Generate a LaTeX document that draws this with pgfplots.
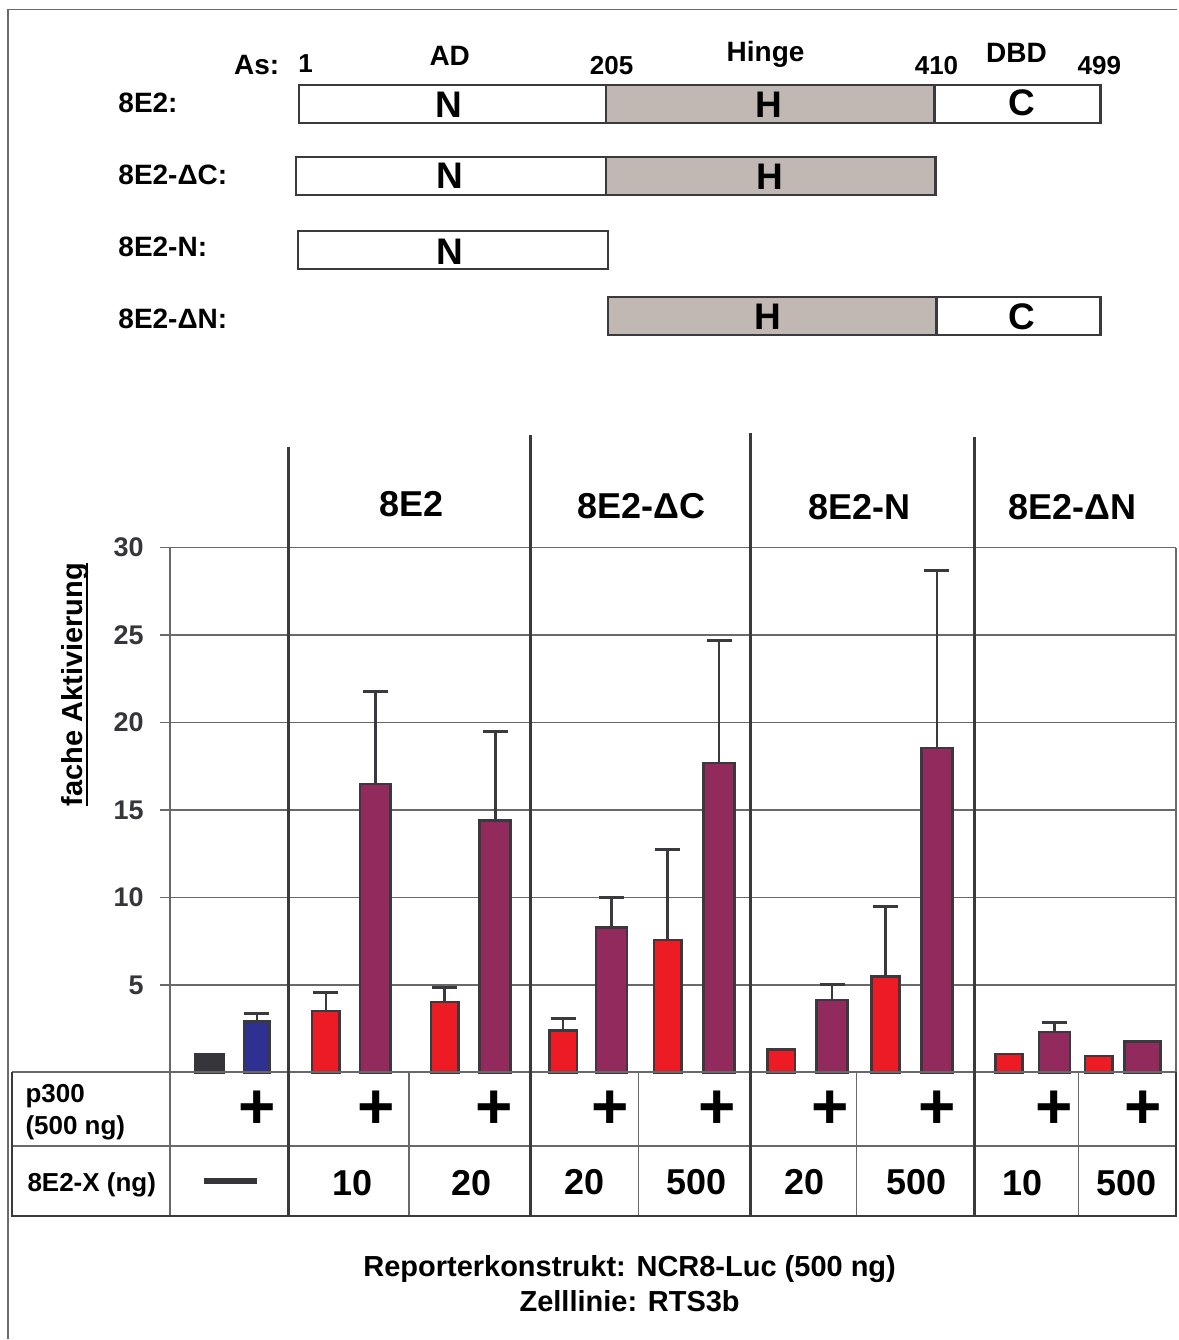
\documentclass[border=0pt]{standalone}
\usepackage{fontspec}
\setmainfont{Liberation Sans}
\usepackage{pgfplots}
\usepackage{pgfplotstable}
\pgfplotsset{compat=1.18}
\definecolor{txt}{RGB}{54,53,58}
\definecolor{dk}{RGB}{58,57,61}
\definecolor{gr}{RGB}{105,105,108}
\definecolor{hinge}{RGB}{193,184,180}
\definecolor{redb}{RGB}{237,28,36}
\definecolor{purb}{RGB}{146,42,94}
\definecolor{blueb}{RGB}{46,49,146}
\definecolor{blackb}{RGB}{54,53,57}
\pgfmathdeclarefunction{py}{1}{\pgfmathparse{(1073-#1)/17.5}}
\newcommand{\fs}[1]{\fontsize{#1}{#1}\selectfont\bfseries}
\newsavebox\ylabbox

% bars: x (pixel centre), value
\pgfplotstableread{
x y
326 3.50
445 4.03
563.5 2.40
668 7.57
781.5 1.30
886 5.50
1009.5 1.05
1099.5 0.93
}\redbars
\pgfplotstableread{
x y
375.5 16.50
495.5 14.40
612 8.28
719.5 17.70
832.5 4.15
937.5 18.55
1055 2.30
}\purbars
% error bars (upper whisker): x, bar top, whisker top
\pgfplotstableread{
x y
257 2.91
257 3.38
nan nan
326 3.50
326 4.58
nan nan
445 4.03
445 4.88
nan nan
563.5 2.40
563.5 3.07
nan nan
668 7.57
668 12.72
nan nan
886 5.50
886 9.50
nan nan
375.5 16.50
375.5 21.75
nan nan
495.5 14.40
495.5 19.50
nan nan
612 8.28
612 9.98
nan nan
719.5 17.70
719.5 24.70
nan nan
832.5 4.15
832.5 5.00
nan nan
937.5 18.55
937.5 28.70
nan nan
1055 2.30
1055 2.83
}\whisk
\pgfplotstableread{
x y
244.5 3.38
269.5 3.38
nan nan
313.5 4.58
338.5 4.58
nan nan
432.5 4.88
457.5 4.88
nan nan
551 3.07
576 3.07
nan nan
655.5 12.72
680.5 12.72
nan nan
873.5 9.50
898.5 9.50
nan nan
363 21.75
388 21.75
nan nan
483 19.50
508 19.50
nan nan
599.5 9.98
624.5 9.98
nan nan
707 24.70
732 24.70
nan nan
820 5.00
845 5.00
nan nan
925 28.70
950 28.70
nan nan
1042.5 2.83
1067.5 2.83
}\caps

\begin{document}
\begin{tikzpicture}
\begin{axis}[
  x=1pt, y=17.5pt,
  xmin=170, xmax=1177, ymin=0, ymax=30,
  clip=false,
  axis line style={draw=none},
  xtick=\empty,
  ytick={5,10,...,30},
  ytick pos=left,
  tick align=outside,
  major tick length=10pt,
  tick style={gr, line width=1.4pt},
  ymajorgrids,
  grid style={gr, line width=1.4pt},
  /pgf/number format/assume math mode=true,
  yticklabel style={font=\fs{27}, text=txt, inner sep=0pt, anchor=east, xshift=-16pt},
  every node/.append style={text=txt, inner sep=0pt},
]
% whiskers first (bars drawn over their foot)
\addplot[dk, line width=2.6pt, unbounded coords=jump, mark=none] table[x=x, y=y] {\whisk};
\addplot[dk, line width=3pt, unbounded coords=jump, mark=none] table[x=x, y=y] {\caps};
% bars
\addplot[ybar, bar width=28.5pt, bar shift=0pt, fill=blackb, draw=blackb, line width=2.6pt]
  coordinates {(209.5,1.05)};
\addplot[ybar, bar width=25.5pt, bar shift=0pt, fill=blueb, draw=dk, line width=2.6pt]
  coordinates {(257,2.91)};
\addplot[ybar, bar width=27.5pt, bar shift=0pt, fill=redb, draw=dk, line width=2.6pt]
  table[x=x, y=y] {\redbars};
\addplot[ybar, bar width=31pt, bar shift=0pt, fill=purb, draw=dk, line width=2.6pt]
  table[x=x, y=y] {\purbars};
\addplot[ybar, bar width=36pt, bar shift=0pt, fill=purb, draw=dk, line width=2.6pt]
  coordinates {(1143,1.75)};

% bounding box and frame
\path (axis cs:0,{py(0)}) rectangle (axis cs:1178,{py(1340)});
\draw[gr, line width=1.5pt] (axis cs:8,{py(1340)}) -- (axis cs:8,{py(9.5)}) -- (axis cs:1178,{py(9.5)});

% axis / table lines
\draw[gr, line width=1.5pt] (axis cs:170,30) -- (axis cs:170,{py(1216)});
\draw[gr, line width=1.5pt] (axis cs:1176.5,30) -- (axis cs:1176.5,0);
\draw[gr, line width=1.5pt] (axis cs:409,0) -- (axis cs:409,{py(1216)});
\draw[gr, line width=1.5pt] (axis cs:639,0) -- (axis cs:639,{py(1216)});
\draw[gr, line width=1.5pt] (axis cs:857,0) -- (axis cs:857,{py(1216)});
\draw[gr, line width=1.5pt] (axis cs:1079,0) -- (axis cs:1079,{py(1216)});
\draw[gr, line width=2pt] (axis cs:12,{py(1146.5)}) -- (axis cs:1177,{py(1146.5)});
\draw[gr, line width=2pt] (axis cs:12,0) -- (axis cs:1177,0);
\draw[dk, line width=2.5pt] (axis cs:1176.5,0) -- (axis cs:1176.5,{py(1216.5)}) -- (axis cs:12,{py(1216.5)}) -- (axis cs:12,0);
\draw[dk, line width=3pt] (axis cs:289,{py(447)}) -- (axis cs:289,{py(1216.5)});
\draw[dk, line width=3pt] (axis cs:531,{py(435)}) -- (axis cs:531,{py(1216.5)});
\draw[dk, line width=3pt] (axis cs:751,{py(433)}) -- (axis cs:751,{py(1216.5)});
\draw[dk, line width=3pt] (axis cs:975,{py(437)}) -- (axis cs:975,{py(1216.5)});

% group headers
\node[anchor=base] at (axis cs:412,{py(516.5)}) {\fs{36}8E2};
\node[anchor=base] at (axis cs:642,{py(519)}) {\fs{36}8E2-\symbol{"0394}C};
\node[anchor=base] at (axis cs:860,{py(520)}) {\fs{36}8E2-N};
\node[anchor=base] at (axis cs:1073,{py(520)}) {\fs{36}8E2-\symbol{"0394}N};

% y label
\node[anchor=base, rotate=90] at (axis cs:83,{py(685)})
  {\fs{29}\sbox\ylabbox{fache Aktivierung}\usebox\ylabbox\llap{\rule[-5pt]{\wd\ylabbox}{2pt}}};

% table text
\node[anchor=base west] at (axis cs:22,{py(1103.3)}) {\fs{26}p300};
\node[anchor=base west] at (axis cs:22,{py(1135)}) {\fs{26}(500 ng)};
\node[anchor=base west] at (axis cs:24,{py(1192)}) {\fs{26}8E2-X (ng)};
\node at (axis cs:257.5,{py(1110)}) {\fs{64}+};
\node at (axis cs:376,{py(1110)}) {\fs{64}+};
\node at (axis cs:494,{py(1110)}) {\fs{64}+};
\node at (axis cs:611,{py(1110)}) {\fs{64}+};
\node at (axis cs:718,{py(1110)}) {\fs{64}+};
\node at (axis cs:831,{py(1110)}) {\fs{64}+};
\node at (axis cs:938,{py(1110)}) {\fs{64}+};
\node at (axis cs:1055,{py(1110)}) {\fs{64}+};
\node at (axis cs:1143.5,{py(1110)}) {\fs{64}+};
\node at (axis cs:230.5,{py(1181.7)}) {\color{txt}\rule{53pt}{6.3pt}};
\node[anchor=base] at (axis cs:353,{py(1196.5)}) {\fs{36}10};
\node[anchor=base] at (axis cs:472,{py(1196)}) {\fs{36}20};
\node[anchor=base] at (axis cs:585,{py(1195)}) {\fs{36}20};
\node[anchor=base] at (axis cs:697,{py(1195)}) {\fs{36}500};
\node[anchor=base] at (axis cs:805,{py(1195)}) {\fs{36}20};
\node[anchor=base] at (axis cs:917,{py(1195)}) {\fs{36}500};
\node[anchor=base] at (axis cs:1023,{py(1196.5)}) {\fs{36}10};
\node[anchor=base] at (axis cs:1127.5,{py(1196.5)}) {\fs{36}500};

% captions
\node[anchor=base] at (axis cs:630,{py(1277)}) {\fs{29}Reporterkonstrukt: NCR8-Luc (500 ng)};
\node[anchor=base] at (axis cs:630,{py(1312)}) {\fs{29}Zelllinie: RTS3b};

% domain diagram
\filldraw[draw=dk, line width=2.3pt, fill=white] (axis cs:299,{py(85)}) rectangle (axis cs:606,{py(123)});
\filldraw[draw=dk, line width=2.3pt, fill=hinge] (axis cs:606,{py(85)}) rectangle (axis cs:935,{py(123)});
\filldraw[draw=dk, line width=2.3pt, fill=white] (axis cs:935,{py(85)}) rectangle (axis cs:1101,{py(123)});
\filldraw[draw=dk, line width=2.3pt, fill=white] (axis cs:296,{py(157)}) rectangle (axis cs:606,{py(195)});
\filldraw[draw=dk, line width=2.3pt, fill=hinge] (axis cs:606,{py(157)}) rectangle (axis cs:936,{py(195)});
\filldraw[draw=dk, line width=2.3pt, fill=white] (axis cs:298,{py(231)}) rectangle (axis cs:608,{py(269)});
\filldraw[draw=dk, line width=2.3pt, fill=hinge] (axis cs:608,{py(297)}) rectangle (axis cs:937,{py(335)});
\filldraw[draw=dk, line width=2.3pt, fill=white] (axis cs:937,{py(297)}) rectangle (axis cs:1101,{py(335)});

\node[anchor=base east] at (axis cs:283,{py(75)}) {\fs{28}As:};
\node[anchor=base west] at (axis cs:295,{py(73)}) {\fs{26}1};
\node[anchor=base] at (axis cs:450,{py(66)}) {\fs{28}AD};
\node[anchor=base] at (axis cs:612,{py(75)}) {\fs{26}205};
\node[anchor=base] at (axis cs:766,{py(62)}) {\fs{28}Hinge};
\node[anchor=base] at (axis cs:937,{py(75)}) {\fs{26}410};
\node[anchor=base] at (axis cs:1017,{py(63)}) {\fs{28}DBD};
\node[anchor=base] at (axis cs:1100,{py(75)}) {\fs{26}499};

\node[anchor=base west] at (axis cs:115,{py(112.7)}) {\fs{28}8E2:};
\node[anchor=base west] at (axis cs:115,{py(185)}) {\fs{28}8E2-\symbol{"0394}C:};
\node[anchor=base west] at (axis cs:115,{py(256.5)}) {\fs{28}8E2-N:};
\node[anchor=base west] at (axis cs:115,{py(328.5)}) {\fs{28}8E2-\symbol{"0394}N:};

\node[anchor=base] at (axis cs:449,{py(118)}) {\fs{37}N};
\node[anchor=base] at (axis cs:450,{py(189)}) {\fs{37}N};
\node[anchor=base] at (axis cs:450,{py(265)}) {\fs{37}N};
\node[anchor=base] at (axis cs:769,{py(118)}) {\fs{37}H};
\node[anchor=base] at (axis cs:770,{py(190)}) {\fs{37}H};
\node[anchor=base] at (axis cs:768,{py(330)}) {\fs{37}H};
\node[anchor=base] at (axis cs:1022,{py(116)}) {\fs{37}C};
\node[anchor=base] at (axis cs:1022,{py(330)}) {\fs{37}C};
\end{axis}
\end{tikzpicture}
\end{document}
